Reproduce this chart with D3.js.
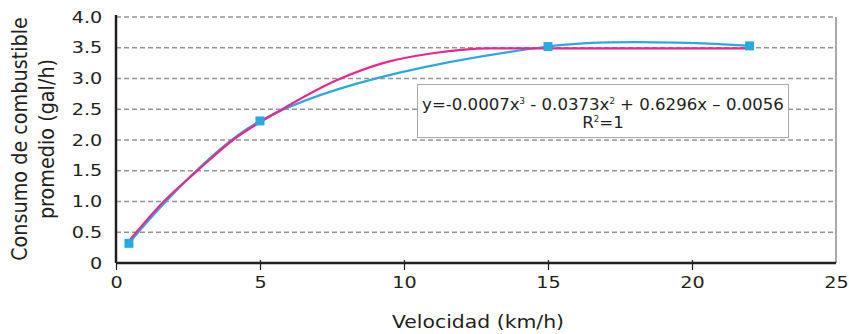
<!DOCTYPE html>
<html>
<head>
<meta charset="utf-8">
<script src="https://cdn.jsdelivr.net/npm/d3@7"></script>
<style>
  body { margin: 0; background: #fff; }
  text { font-family: 'DejaVu Sans', Verdana, sans-serif; fill: #231f20; }
</style>
</head>
<body>
<div id="chart"></div>
<script>
// measured points (blue squares + smoothed line)
const speeds = [0.45, 5, 15, 22];
const fuel = [0.32, 2.31, 3.52, 3.53];

// pink model curve
const modelX = [0.45, 1.7, 2.8, 4.06, 5.7, 7.66, 9.27, 11.0, 13.0, 22];
const modelY = [0.36, 1.02, 1.49, 2.0, 2.48, 2.97, 3.25, 3.41, 3.49, 3.49];

const xTicks = [0, 5, 10, 15, 20, 25];
const yTicks = [0, 0.5, 1.0, 1.5, 2.0, 2.5, 3.0, 3.5, 4.0];

const width = 849;
const height = 334;
const margin = { top: 17, right: 13, bottom: 71, left: 116 };
// the source text is drawn wide, so glyphs get stretched sideways
const stretch = 1.2;

const svg = d3.select('#chart')
  .append('svg')
  .attr('width', width)
  .attr('height', height);

const x = d3.scaleLinear().domain([0, 25]).range([margin.left, width - margin.right]);
const y = d3.scaleLinear().domain([0, 4]).range([height - margin.bottom, margin.top]);

// grid lines
svg.append('g')
  .selectAll('line')
  .data(yTicks.filter(d => d > 0))
  .enter().append('line')
  .attr('x1', x(0))
  .attr('x2', x(25))
  .attr('y1', d => y(d))
  .attr('y2', d => y(d))
  .attr('stroke', '#939598')
  .attr('stroke-width', 1.5)
  .attr('stroke-dasharray', '5,3');

// right frame line
svg.append('line')
  .attr('x1', x(25)).attr('x2', x(25))
  .attr('y1', y(4)).attr('y2', y(0))
  .attr('stroke', '#a7a9ac')
  .attr('stroke-width', 2);

// y axis
const yAxis = svg.append('g')
  .attr('transform', `translate(${x(0)},0)`)
  .call(d3.axisLeft(y).tickValues(yTicks).tickSize(0).tickPadding(11.5)
    .tickFormat(d => d === 0 ? '0' : d3.format('.1f')(d)));
yAxis.select('.domain')
  .attr('d', `M0,${y(4) - 2}V${y(0)}`)
  .attr('stroke', '#231f20')
  .attr('stroke-width', 2.5);
yAxis.selectAll('text')
  .attr('font-size', 16)
  .attr('fill', '#231f20')
  .attr('transform', `scale(${stretch},1)`);

// x axis
const xAxis = svg.append('g')
  .attr('transform', `translate(0,${y(0)})`)
  .call(d3.axisBottom(x).tickValues(xTicks).tickSize(6).tickPadding(8));
xAxis.select('.domain')
  .attr('d', `M${x(0)},0H${x(25)}`)
  .attr('stroke', '#231f20')
  .attr('stroke-width', 2.5);
xAxis.selectAll('.tick line')
  .attr('y1', d => (d > 0 && d < 25) ? -3 : 0)
  .attr('y2', d => d < 25 ? 7 : 0)
  .attr('stroke', '#231f20')
  .attr('stroke-width', 1.2);
xAxis.selectAll('text')
  .attr('font-size', 16)
  .attr('fill', '#231f20')
  .attr('transform', `scale(${stretch},1)`);

// axis titles
svg.append('g')
  .attr('transform', `translate(478,328) scale(${stretch},1)`)
  .append('text')
  .attr('text-anchor', 'middle')
  .attr('font-size', 17)
  .text('Velocidad (km/h)');

const yTitle = svg.append('g')
  .attr('transform', `translate(0,139) scale(${stretch},1.13) rotate(-90)`);
yTitle.append('text')
  .attr('x', 0).attr('y', 22.5)
  .attr('text-anchor', 'middle')
  .attr('font-size', 17)
  .text('Consumo de combustible');
yTitle.append('text')
  .attr('x', 0).attr('y', 45)
  .attr('text-anchor', 'middle')
  .attr('font-size', 17)
  .text('promedio (gal/h)');

// smoothed line through measured points
const measured = speeds.map((s, i) => [s, fuel[i]]);
const model = modelX.map((s, i) => [s, modelY[i]]);

svg.append('path')
  .datum(measured)
  .attr('fill', 'none')
  .attr('stroke', '#27aae1')
  .attr('stroke-width', 2.2)
  .attr('d', d3.line().x(d => x(d[0])).y(d => y(d[1])).curve(d3.curveCatmullRom.alpha(0.5)));

svg.append('path')
  .datum(model)
  .attr('fill', 'none')
  .attr('stroke', '#ec268f')
  .attr('stroke-width', 2.2)
  .attr('d', d3.line().x(d => x(d[0])).y(d => y(d[1])).curve(d3.curveMonotoneX));

// square markers
svg.append('g')
  .selectAll('rect')
  .data(measured)
  .enter().append('rect')
  .attr('x', d => x(d[0]) - 4.5)
  .attr('y', d => y(d[1]) - 4.5)
  .attr('width', 9)
  .attr('height', 9)
  .attr('fill', '#27aae1');

// equation box
const box = svg.append('g');
box.append('rect')
  .attr('x', 417.5).attr('y', 84.5)
  .attr('width', 371).attr('height', 53)
  .attr('fill', '#fff')
  .attr('stroke', '#a7a9ac')
  .attr('stroke-width', 1);

const eqG = box.append('g')
  .attr('transform', 'translate(603,0) scale(1.07,1)');
const eq = eqG.append('text')
  .attr('x', 0).attr('y', 110)
  .attr('text-anchor', 'middle')
  .attr('font-size', 15.5);
eq.append('tspan').text('y=-0.0007x');
eq.append('tspan').attr('font-size', 8).attr('dy', -6).text('3');
eq.append('tspan').attr('dy', 6).text(' - 0.0373x');
eq.append('tspan').attr('font-size', 8).attr('dy', -6).text('2');
eq.append('tspan').attr('dy', 6).text(' + 0.6296x \u2013 0.0056');

const r2 = eqG.append('text')
  .attr('x', 0).attr('y', 128)
  .attr('text-anchor', 'middle')
  .attr('font-size', 15.5);
r2.append('tspan').text('R');
r2.append('tspan').attr('font-size', 8).attr('dy', -6).text('2');
r2.append('tspan').attr('dy', 6).text('=1');
</script>
</body>
</html>
